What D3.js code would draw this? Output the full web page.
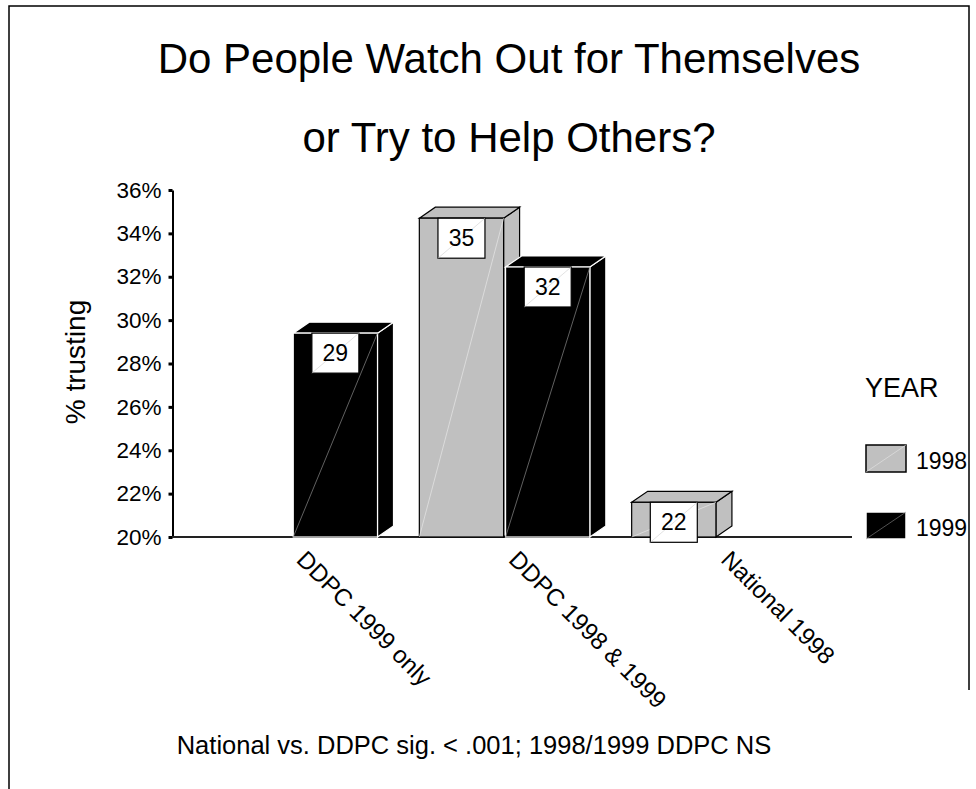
<!DOCTYPE html>
<html>
<head>
<meta charset="utf-8">
<script src="https://cdn.jsdelivr.net/npm/d3@7"></script>
<style>
  html, body { margin: 0; padding: 0; background: #fff; }
  svg { display: block; }
  text { font-family: "Liberation Sans", Arial, sans-serif; fill: #000; }
</style>
</head>
<body>
<svg id="chart" width="976" height="789"></svg>
<script>
// ---- data ----
const categories = ["DDPC 1999 only", "DDPC 1998 & 1999", "National 1998"];
const seriesNames = ["1998", "1999"];
const values1998 = [null, 34.7, 21.6];
const values1999 = [29.4, 32.45, null];
const yTicks = [20, 22, 24, 26, 28, 30, 32, 34, 36];
const titleLines = ["Do People Watch Out for Themselves", "or Try to Help Others?"];
const yTitle = "% trusting";
const legendTitle = "YEAR";
const footnote = "National vs. DDPC sig. < .001; 1998/1999 DDPC NS";

// ---- styling ----
const fills = { "1998": "#c0c0c0", "1999": "#000000" };
const edges = { "1998": "#000000", "1999": "#ffffff" };
const glints = { "1998": "#e6e6e6", "1999": "#8a8a8a" };
const depthX = 16, depthY = -11;

const svg = d3.select("#chart");

// outer frame
svg.append("path")
  .attr("d", "M9,789 V6 H969 V690")
  .attr("fill", "none").attr("stroke", "#000").attr("stroke-width", 1.5);

// scales
const y = d3.scaleLinear().domain([20, 36]).range([537, 190]);
const x0 = d3.scaleBand().domain(categories).range([186, 823]).padding(0);
const x1 = d3.scaleBand().domain(seriesNames).range([21, 191.5]).paddingInner(0.023);

// title
svg.append("g").selectAll("text").data(titleLines).join("text")
  .attr("x", 509).attr("y", (d, i) => 73 + i * 79)
  .attr("text-anchor", "middle").style("font-size", "42px")
  .text(d => d);

// y axis
const yAxis = svg.append("g").attr("transform", "translate(172.5,0)")
  .call(d3.axisLeft(y).tickValues(yTicks).tickFormat(d => d + "%")
    .tickSize(4).tickSizeOuter(0).tickPadding(7));
yAxis.select(".domain").attr("stroke", "#000").attr("stroke-width", 2);
yAxis.selectAll(".tick line").attr("stroke", "#000").attr("stroke-width", 3);
yAxis.selectAll(".tick text").style("font-size", "22.5px")
  .style("font-family", "'Liberation Sans', Arial, sans-serif").attr("fill", "#000");

// y axis title
svg.append("text")
  .attr("transform", "translate(85,362) rotate(-90)")
  .attr("text-anchor", "middle").style("font-size", "28px")
  .text(yTitle);

// base line
svg.append("line")
  .attr("x1", 172).attr("x2", 852).attr("y1", y(20)).attr("y2", y(20))
  .attr("stroke", "#222").attr("stroke-width", 2);

// bar records
const bars = [];
categories.forEach((c, i) => {
  [values1998[i], values1999[i]].forEach((v, j) => {
    if (v != null) bars.push({ cat: c, series: seriesNames[j], value: v });
  });
});

const barG = svg.append("g");
bars.forEach(b => {
  const left = x0(b.cat) + x1(b.series);
  const right = left + x1.bandwidth();
  const top = y(b.value);
  const bottom = y(20);
  const g = barG.append("g");
  const fill = fills[b.series], edge = edges[b.series];
  // side face
  g.append("path")
    .attr("d", `M${right},${bottom} L${right + depthX},${bottom + depthY} L${right + depthX},${top + depthY} L${right},${top} Z`)
    .attr("fill", fill).attr("stroke", edge).attr("stroke-width", 1.2);
  // top face
  g.append("path")
    .attr("d", `M${left},${top} L${left + depthX},${top + depthY} L${right + depthX},${top + depthY} L${right},${top} Z`)
    .attr("fill", fill).attr("stroke", edge).attr("stroke-width", 1.2);
  // front face
  g.append("rect")
    .attr("x", left).attr("y", top).attr("width", right - left).attr("height", bottom - top)
    .attr("fill", fill).attr("stroke", edge).attr("stroke-width", 1.2);
  // light streak across front face
  g.append("line")
    .attr("x1", left).attr("y1", bottom).attr("x2", right).attr("y2", top)
    .attr("stroke", glints[b.series]).attr("stroke-width", 0.7);
});

// value labels
const fmt = d3.format(".0f");
const labelG = svg.append("g");
bars.forEach(b => {
  const cx = x0(b.cat) + x1(b.series) + x1.bandwidth() / 2;
  const top = y(b.value);
  const w = 47, h = 40;
  const g = labelG.append("g");
  g.append("rect")
    .attr("x", cx - w / 2).attr("y", top).attr("width", w).attr("height", h)
    .attr("fill", "#fff").attr("stroke", "#000").attr("stroke-width", 1.2);
  g.append("line")
    .attr("x1", cx - w / 2).attr("y1", top + h).attr("x2", cx + w / 2).attr("y2", top)
    .attr("stroke", "#cfcfcf").attr("stroke-width", 0.6);
  g.append("text")
    .attr("x", cx).attr("y", top + 28)
    .attr("text-anchor", "middle").style("font-size", "23px")
    .text(fmt(b.value));
});

// category labels
svg.append("g").selectAll("text").data(categories).join("text")
  .attr("transform", d => `translate(${x0(d) + x0.bandwidth() / 2 + 3},561) rotate(45)`)
  .style("font-size", "24px")
  .text(d => d);

// legend
svg.append("text").attr("x", 865).attr("y", 397).style("font-size", "27px").text(legendTitle);
const legend = svg.append("g").selectAll("g").data(seriesNames).join("g")
  .attr("transform", (d, i) => `translate(866,${445 + i * 67})`);
legend.append("rect")
  .attr("width", 40).attr("height", 27)
  .attr("fill", d => fills[d]).attr("stroke", d => d === "1998" ? "#000" : "#fff").attr("stroke-width", 1.5);
legend.append("line")
  .attr("x1", 0).attr("y1", 27).attr("x2", 40).attr("y2", 0)
  .attr("stroke", d => glints[d]).attr("stroke-width", 0.6);
legend.append("text")
  .attr("x", 50).attr("y", 24).style("font-size", "23px")
  .text(d => d);

// footnote
svg.append("text")
  .attr("x", 474).attr("y", 754).attr("text-anchor", "middle")
  .style("font-size", "25.5px")
  .text(footnote);
</script>
</body>
</html>
